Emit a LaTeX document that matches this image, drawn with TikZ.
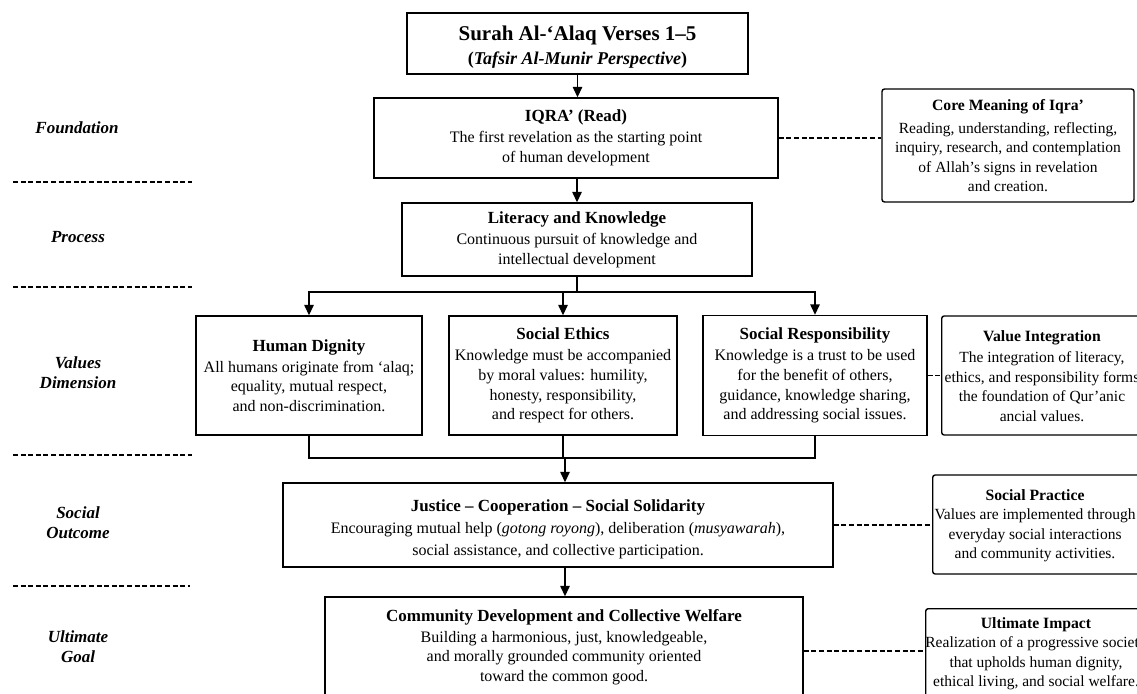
\documentclass[tikz,border=0pt]{standalone}
\usepackage{fontspec}
\setmainfont{Liberation Serif}
\usetikzlibrary{arrows.meta}
\newcommand\mhead[1]{{\fontsize{17}{20}\selectfont\bfseries #1}}
\newcommand\shead[1]{{\fontsize{15.7}{20}\selectfont\bfseries #1}}
\begin{document}
\begin{tikzpicture}[x=1pt,y=-1pt,
  box/.style={draw, line width=1.4pt, inner sep=0pt, align=center, font=\fontsize{16}{19.6}\selectfont},
  sidebox/.style={draw, line width=1.4pt, rounded corners=2.5pt, inner sep=0pt},
  sidetxt/.style={inner sep=0pt, align=center, font=\fontsize{15.5}{19.5}\selectfont},
  lab/.style={inner sep=0pt, align=center, font=\fontsize{17}{20}\selectfont\bfseries\itshape},
  sepline/.style={line width=1.2pt, dash pattern=on 5pt off 2.6pt},
  conn/.style={line width=1.4pt},
  arr/.style={line width=1.4pt, -{Triangle[length=10.5pt,width=9.5pt]}},
  dashconn/.style={line width=1.2pt, dash pattern=on 5pt off 2.6pt}
]
\useasboundingbox (0,0) rectangle (1137,693);
\fill[white] (0,0) rectangle (1137,693);
\clip (0,0) rectangle (1137,693);

% left labels
\node[lab] (lfound) at (77,128) {Foundation};
\node[lab] (lproc) at (78,237) {Process};
\node[lab] (lval) at (78,373) {Values\\Dimension};
\node[lab] (lsoc) at (78,523) {Social\\Outcome};
\node[lab] (lgoal) at (78,647) {Ultimate\\Goal};
\draw[sepline] (13,182) -- (192,182);
\draw[sepline] (13,287) -- (192,287);
\draw[sepline] (13,455) -- (192,455);
\draw[sepline] (13,586) -- (190,586);

% main boxes
\node[box, minimum width=341, minimum height=61] (title) at (577.5,43.5)
  {\rule{0pt}{21.5pt}{\fontsize{21}{25}\selectfont\bfseries Surah Al-‘Alaq Verses 1–5}\\[4pt]
   {\fontsize{18}{22}\selectfont\bfseries (\textit{Tafsir Al-Munir Perspective})}};
\node[box, minimum width=404, minimum height=80] (iqra) at (576,138)
  {\mhead{IQRA’ (Read)}\\[1.5pt]The first revelation as the starting point\\of human development};
\node[box, minimum width=350, minimum height=73] (lit) at (577,239.5)
  {\mhead{Literacy and Knowledge}\\[1.5pt]Continuous pursuit of knowledge and\\intellectual development};
\node[box, minimum width=226, minimum height=119] (hd) at (309,375.5)
  {\mhead{Human Dignity}\\[1.5pt]All humans originate from ‘alaq;\\equality, mutual respect,\\and non-discrimination.};
\node[box, minimum width=228, minimum height=119] (se) at (563,375.5)
  {\mhead{Social Ethics}\\[1.5pt]Knowledge must be accompanied\\by moral values: humility,\\honesty, responsibility,\\and respect for others.};
\node[box, minimum width=224, minimum height=120] (sr) at (815,375.5)
  {\mhead{Social Responsibility}\\[1.5pt]Knowledge is a trust to be used\\for the benefit of others,\\guidance, knowledge sharing,\\and addressing social issues.};
\node[box, minimum width=550, minimum height=84, font=\fontsize{16}{21.5}\selectfont] (just) at (558,525)
  {\rule{0pt}{20pt}\mhead{Justice – Cooperation – Social Solidarity}\\[1pt]Encouraging mutual help (\textit{gotong royong}), deliberation (\textit{musyawarah}),\\social assistance, and collective participation.};
\node[box, minimum width=478, minimum height=100] (comm) at (564,647)
  {\mhead{Community Development and Collective Welfare}\\[1.5pt]Building a harmonious, just, knowledgeable,\\and morally grounded community oriented\\toward the common good.};

% side boxes
\node[sidebox, minimum width=252, minimum height=113] (core) at (1008,145.5) {};
\node[sidetxt] (coret) at (1008,146)
  {\shead{Core Meaning of Iqra’}\\[3pt]Reading, understanding, reflecting,\\inquiry, research, and contemplation\\of Allah’s signs in revelation\\and creation.};
\node[sidebox, minimum width=250, minimum height=119, anchor=west] (vi) at (941,375.5) {};
\node[sidetxt] (vit) at (1042,376)
  {\shead{Value Integration}\\[1.5pt]The integration of literacy,\\ethics, and responsibility forms\\the foundation of Qur’anic\\ancial values.};
\node[sidebox, minimum width=250, minimum height=99, anchor=west] (sp) at (932,524.5) {};
\node[sidetxt] (spt) at (1035,525.5)
  {\shead{Social Practice}\\[0pt]Values are implemented through\\everyday social interactions\\and community activities.};
\node[sidebox, minimum width=250, minimum height=90, anchor=north west] (ui) at (925,608) {};
\node[sidetxt] (uit) at (1036,653.5)
  {\shead{Ultimate Impact}\\[0pt]Realization of a progressive society\\that upholds human dignity,\\ethical living, and social welfare.};

% connectors
\draw[arr] (title.south) -- (title.south |- iqra.north);
\draw[arr] (lit.north |- iqra.south) -- (lit.north);
\coordinate (dist) at (577,292);
\draw[conn] (lit.south) -- (dist);
\draw[arr] (dist) -| (hd.north);
\draw[arr] (dist) -| (sr.north);
\draw[arr] (se.north |- dist) -- (se.north);
\coordinate (coll) at (565,458);
\draw[conn] (hd.south) |- (coll);
\draw[conn] (sr.south) |- (coll);
\draw[conn] (se.south) -- (se.south |- coll);
\draw[arr] (coll) -- (coll |- just.north);
\draw[arr] (coll |- just.south) -- (coll |- comm.north);

\draw[dashconn] (iqra.east) -- (iqra.east -| core.west);
\draw[dashconn] (sr.east) -- (sr.east -| vi.west);
\draw[dashconn] (just.east) -- (just.east -| sp.west);
\draw[dashconn] ([yshift=-4pt]comm.east) -- ([yshift=-4pt]comm.east -| ui.west);
\end{tikzpicture}
\end{document}
